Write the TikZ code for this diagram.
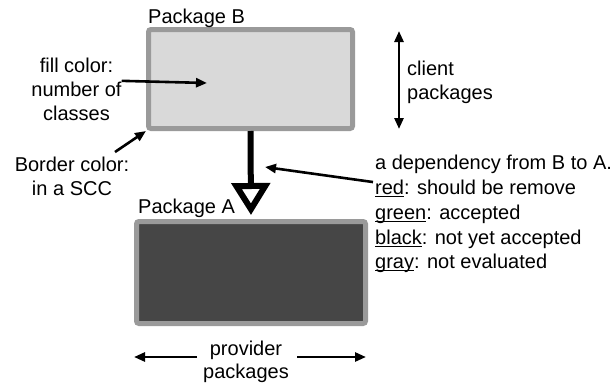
\documentclass[tikz,border=0pt]{standalone}
\usepackage{fontspec}
\setmainfont{Liberation Sans}
\usetikzlibrary{arrows.meta}
\definecolor{bordergray}{RGB}{154,154,154}
\definecolor{lightfill}{RGB}{217,217,217}
\definecolor{darkfill}{RGB}{70,70,70}
\newcommand\myul[1]{\setbox0\hbox{#1}\rlap{\rule[-2.6pt]{\wd0}{1.1pt}}\box0}
\begin{document}
\begin{tikzpicture}[x=1pt,y=-1pt,
  every node/.style={font=\fontsize{20}{24}\selectfont, inner sep=0pt},
  pkg/.style={draw=bordergray, line width=5pt, rounded corners=2.5pt, outer sep=2.5pt},
  lbl/.style={anchor=base},
  lblw/.style={anchor=base west},
  note/.style={line width=2.6pt, -{Triangle[length=11pt,width=9pt]}},
  dbl/.style={line width=2.6pt, {Triangle[length=11pt,width=9pt]}-{Triangle[length=11pt,width=9pt]}},
  dep/.style={line width=6pt, -{Triangle[open,length=32pt,width=38pt,line join=miter]}, shorten >=4pt}
]
\useasboundingbox (0,0) rectangle (616,383);
% packages
\node[pkg, fill=lightfill, minimum width=204pt, minimum height=99pt] (B) at (250.5,79) {};
\node[pkg, fill=darkfill, minimum width=229pt, minimum height=102pt] (A) at (251,272.5) {};
\node[lblw] (Blabel) at (148,23.3) {Package B};
\node[lblw] (Alabel) at (138,213) {Package A};
% dependency
\draw[dep] (B.south) -- (A.north);
% fill color
\node[lbl] (fill1) at (76.5,72) {fill color:};
\node[lbl] (fill2) at (76.5,96) {number of};
\node[lbl] (fill3) at (76.5,120) {classes};
\coordinate (fillTip) at (207,83);
\draw[note] (fill2.east) ++(0,-8) coordinate (fillTail) -- (fillTip);
% border color
\node[lbl] (bord1) at (72,171) {Border color:};
\node[lbl] (bord2) at (72,195) {in a SCC};
\coordinate (bordTail) at (115,152);
\draw[note] (bordTail) -- (B.south west);
% client
\coordinate (cTop) at (399,31);
\coordinate (cBot) at (399,129);
\draw[dbl] (cTop) -- (cBot);
\node[lblw] (cl1) at (407,75) {client};
\node[lblw] (cl2) at (407,99) {packages};
% provider
\node[lbl] (pr1) at (246,355) {provider};
\node[lbl] (pr2) at (246,378) {packages};
\coordinate (pLeft) at (134,357);
\coordinate (pRight) at (366,357);
\coordinate (pLs) at (197,357);
\coordinate (pRs) at (297,357);
\draw[note] (pLs) -- (pLeft);
\draw[note] (pRs) -- (pRight);
% legend
\node[lblw] (lg0) at (375,169) {a dependency from B to A.};
\node[lblw] (lg1) at (375,194) {\myul{red}: should be remove};
\node[lblw] (lg2) at (375,219) {\myul{green}: accepted};
\node[lblw] (lg3) at (375,244) {\myul{black}: not yet accepted};
\node[lblw] (lg4) at (375,268) {\myul{gray}: not evaluated};
\coordinate (depTip) at (265,167);
\draw[note] (lg1.west) ++(-2,-6) coordinate (depTail) -- (depTip);
\end{tikzpicture}
\end{document}
